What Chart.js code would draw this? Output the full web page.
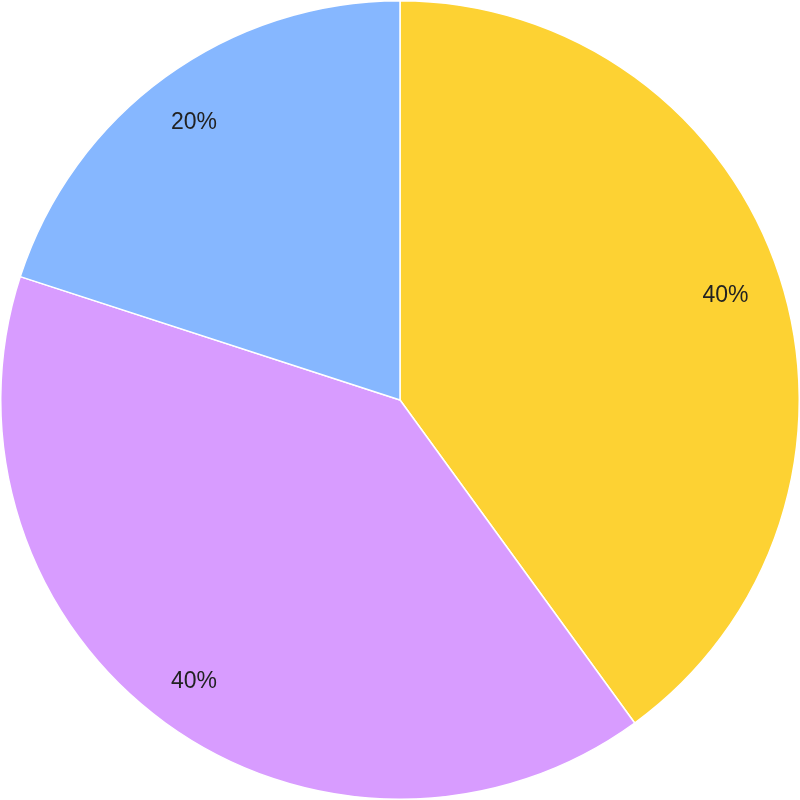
<!DOCTYPE html>
<html>
<head>
<meta charset="utf-8">
<script src="https://cdn.jsdelivr.net/npm/chart.js@4"></script>
<style>
  html, body { margin: 0; padding: 0; background: #fff; }
  #wrap { width: 800px; height: 800px; }
</style>
</head>
<body>
<div id="wrap"><canvas id="mainChart"></canvas></div>
<script>
const labels = ['A', 'B', 'C'];
const values = [40, 40, 20];
const colors = ['#FDD233', '#D89CFF', '#86B7FF'];

// puts the percentage inside each slice
const pctLabels = {
    id: 'pctLabels',
    afterDatasetsDraw(chart) {
        const ctx = chart.ctx;
        const total = values.reduce((a, b) => a + b, 0);
        chart.getDatasetMeta(0).data.forEach((arc, i) => {
            const p = arc.getProps(['x', 'y', 'startAngle', 'endAngle', 'outerRadius'], true);
            const mid = (p.startAngle + p.endAngle) / 2;
            const r = p.outerRadius * 0.865;
            ctx.save();
            ctx.font = '23px "Liberation Sans", Arial, sans-serif';
            ctx.fillStyle = '#222';
            ctx.textAlign = 'center';
            ctx.textBaseline = 'middle';
            ctx.fillText(Math.round(values[i] / total * 100) + '%', p.x + Math.cos(mid) * r - 3, p.y + Math.sin(mid) * r + 2);
            ctx.restore();
        });
    }
};

new Chart(document.getElementById('mainChart'), {
    type: 'pie',
    data: {
        labels: labels,
        datasets: [{
            data: values,
            backgroundColor: colors,
            borderColor: '#fff',
            borderWidth: 1.5
        }]
    },
    options: {
        responsive: true, maintainAspectRatio: false,
        animation: false,
        layout: { padding: 0 },
        plugins: { legend: { display: false }, tooltip: { enabled: false } }
    },
    plugins: [pctLabels]
});
</script>
</body>
</html>
